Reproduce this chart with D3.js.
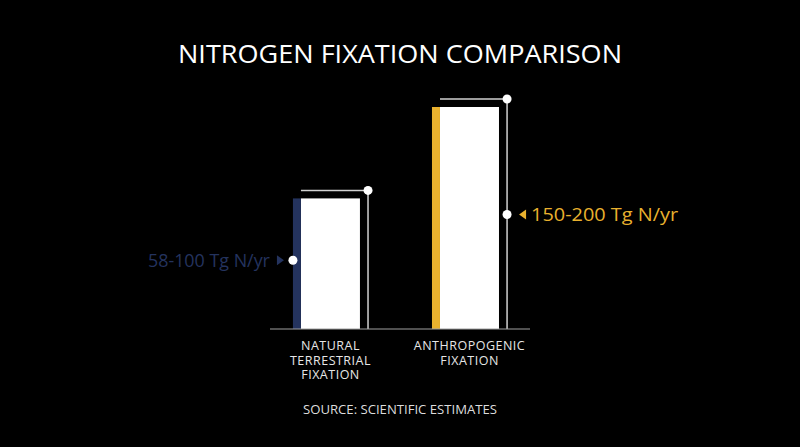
<!DOCTYPE html>
<html>
<head>
<meta charset="utf-8">
<script src="https://cdn.jsdelivr.net/npm/d3@7"></script>
<style>
  html, body { margin: 0; padding: 0; background: #000; }
  svg { display: block; }
</style>
</head>
<body>
<svg id="chart" width="800" height="447"></svg>
<script>
// data
var categories = ["natural", "anthropogenic"];
var categoryLines = [["NATURAL", "TERRESTRIAL", "FIXATION"], ["ANTHROPOGENIC", "FIXATION"]];
var barValues = [100, 170];          // bar height (estimated, Tg N/yr scale)
var rangeLabels = ["58-100 Tg N/yr", "150-200 Tg N/yr"];
var accentColors = ["#24335e", "#e9b12e"];
var labelSide = ["left", "right"];

var svg = d3.select("#chart"),
  width = +svg.attr("width"),
  height = +svg.attr("height");

svg.append("rect").attr("width", width).attr("height", height).attr("fill", "#000");

var font = "'Open Sans', 'Noto Sans', sans-serif";

// scales
var x = d3.scaleBand()
  .domain(categories)
  .range([270, 530])
  .paddingInner(0.46)
  .paddingOuter(0.165);

var y = d3.scaleLinear()
  .domain([0, 170])
  .range([329, 107]);

var bw = x.bandwidth();
var stripeW = 8, barW = 67, bracketGap = 8;

// title
svg.append("text")
  .attr("x", width / 2).attr("y", 63)
  .attr("text-anchor", "middle")
  .attr("fill", "#fff")
  .style("font-family", font)
  .style("font-size", "25px")
  .attr("textLength", 444)
  .attr("lengthAdjust", "spacingAndGlyphs")
  .text("NITROGEN FIXATION COMPARISON");

var g = svg.selectAll("g.bar")
  .data(categories)
  .enter().append("g")
  .attr("class", "bar");

// white bar
g.append("rect")
  .attr("x", function (d) { return x(d) + stripeW; })
  .attr("y", function (d, i) { return y(barValues[i]); })
  .attr("width", barW - stripeW)
  .attr("height", function (d, i) { return y(0) - y(barValues[i]); })
  .attr("fill", "#fff");

// accent stripe
g.append("rect")
  .attr("x", function (d) { return x(d); })
  .attr("y", function (d, i) { return y(barValues[i]); })
  .attr("width", stripeW)
  .attr("height", function (d, i) { return y(0) - y(barValues[i]); })
  .attr("fill", function (d, i) { return accentColors[i]; });

// bracket
g.append("path")
  .attr("d", function (d, i) {
    var top = y(barValues[i]) - bracketGap;
    return "M" + (x(d) + stripeW) + "," + top + "H" + (x(d) + bw) + "V" + y(0);
  })
  .attr("fill", "none")
  .attr("stroke", "#d0d0d0")
  .attr("stroke-width", 1.5);

g.append("circle")
  .attr("cx", function (d) { return x(d) + bw; })
  .attr("cy", function (d, i) { return y(barValues[i]) - bracketGap; })
  .attr("r", 4.5)
  .attr("fill", "#fff");

// baseline
svg.append("line")
  .attr("x1", 270).attr("x2", 530)
  .attr("y1", y(0)).attr("y2", y(0))
  .attr("stroke", "#a0a0a0")
  .attr("stroke-width", 1.2);

// range labels
g.each(function (d, i) {
  var sel = d3.select(this);
  var ly = y(barValues[i] / 2) - 3.5;
  var left = labelSide[i] === "left";
  var dotX = left ? x(d) : x(d) + bw;
  sel.append("circle")
    .attr("cx", dotX).attr("cy", ly)
    .attr("r", 4.5)
    .attr("fill", "#fff");
  var tri = left
    ? [[dotX - 16, ly - 5], [dotX - 9, ly], [dotX - 16, ly + 5]]
    : [[dotX + 12, ly], [dotX + 19, ly - 5], [dotX + 19, ly + 5]];
  sel.append("path")
    .attr("d", d3.line()(tri) + "Z")
    .attr("fill", accentColors[i]);
  sel.append("text")
    .attr("x", left ? dotX - 23 : dotX + 18 + 6)
    .attr("y", ly + 6.5)
    .attr("text-anchor", left ? "end" : "start")
    .attr("fill", accentColors[i])
    .style("font-family", font)
    .style("font-size", "17.5px")
    .attr("textLength", left ? 122 : 147)
    .attr("lengthAdjust", "spacingAndGlyphs")
    .text(rangeLabels[i]);
});

// category labels
g.each(function (d, i) {
  var t = d3.select(this).append("text")
    .attr("text-anchor", "middle")
    .attr("fill", "#e6e6e6")
    .style("font-family", font)
    .style("font-size", "12.5px")
    .style("letter-spacing", "0.5px");
  t.selectAll("tspan")
    .data(categoryLines[i])
    .enter().append("tspan")
    .attr("x", x(d) + bw / 2)
    .attr("y", function (l, j) { return 350 + j * 14.6; })
    .text(function (l) { return l; });
});

// source
svg.append("text")
  .attr("x", width / 2).attr("y", 414)
  .attr("text-anchor", "middle")
  .attr("fill", "#dcdcdc")
  .style("font-family", font)
  .style("font-size", "12px")
  .attr("textLength", 194)
  .attr("lengthAdjust", "spacingAndGlyphs")
  .text("SOURCE: SCIENTIFIC ESTIMATES");
</script>
</body>
</html>
